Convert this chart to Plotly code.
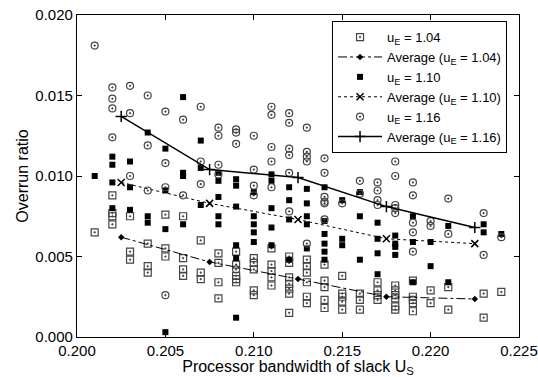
import plotly.graph_objects as go

# ---- data ----
cols_104 = {
    0.201: [0.0065],
    0.202: [0.0088, 0.0077, 0.0075, 0.0070],
    0.203: [0.0075, 0.0053, 0.0048],
    0.204: [0.0058, 0.0044, 0.0040],
    0.205: [0.0076, 0.0055, 0.0050],
    0.206: [0.0075, 0.0049, 0.0042, 0.0038],
    0.207: [0.0060, 0.0040, 0.0036],
    0.208: [0.0052, 0.0046, 0.0034, 0.0024],
    0.209: [0.0053, 0.0045, 0.0038, 0.0036, 0.0034],
    0.210: [0.0049, 0.0046, 0.0042, 0.0029, 0.0026],
    0.211: [0.0055, 0.0045, 0.0041, 0.0037, 0.0032],
    0.212: [0.0050, 0.0046, 0.0037, 0.0033, 0.0030, 0.0027, 0.0015],
    0.213: [0.0048, 0.0044, 0.0040, 0.0034, 0.0025, 0.0021],
    0.214: [0.0045, 0.0035, 0.0031, 0.0023, 0.0018],
    0.215: [0.0038, 0.0027, 0.0025, 0.0022, 0.0017],
    0.216: [0.0027, 0.0023, 0.0017],
    0.217: [0.0034, 0.0029, 0.0026, 0.0023],
    0.218: [0.0032, 0.0029, 0.0026, 0.0024, 0.0019, 0.0017],
    0.219: [0.0035, 0.0025, 0.0023, 0.0021, 0.0016],
    0.220: [0.0029, 0.0021],
    0.221: [0.0031, 0.0017],
    0.223: [0.0027, 0.0012],
    0.224: [0.0028],
}
cols_110 = {
    0.201: [0.0100],
    0.202: [0.0112, 0.0107, 0.0096, 0.0080],
    0.203: [0.0109, 0.0093, 0.0079],
    0.204: [0.0127, 0.0075, 0.0071],
    0.205: [0.0117, 0.0091, 0.0067, 0.0003],
    0.206: [0.0149, 0.0102, 0.0100, 0.0070],
    0.207: [0.0122, 0.0105, 0.0082],
    0.208: [0.0102, 0.0097, 0.0087, 0.0075, 0.0070],
    0.209: [0.0098, 0.0094, 0.0081, 0.0057, 0.0049, 0.0012],
    0.210: [0.0090, 0.0075, 0.0070, 0.0065, 0.0059],
    0.211: [0.0101, 0.0097, 0.0080, 0.0068, 0.0057],
    0.212: [0.0093, 0.0085, 0.0073, 0.0048],
    0.213: [0.0092, 0.0083, 0.0075, 0.0070, 0.0055],
    0.214: [0.0093, 0.0072, 0.0064, 0.0058, 0.0053, 0.0048],
    0.215: [0.0085, 0.0061, 0.0057],
    0.216: [0.0090, 0.0075, 0.0048],
    0.217: [0.0071, 0.0061, 0.0052, 0.0039],
    0.218: [0.0063, 0.0058, 0.0056, 0.0051],
    0.219: [0.0075, 0.0059, 0.0034],
    0.220: [0.0059, 0.0044],
    0.221: [0.0069, 0.0034],
    0.223: [0.0070, 0.0065],
    0.224: [0.0064],
}
cols_116 = {
    0.201: [0.0181],
    0.202: [0.0155, 0.0148, 0.0142, 0.0124],
    0.203: [0.0156, 0.0139, 0.0100],
    0.204: [0.0150, 0.0119, 0.0091],
    0.205: [0.0140, 0.0108, 0.0093, 0.0026],
    0.206: [0.0135, 0.0088],
    0.207: [0.0143, 0.0109, 0.0095],
    0.208: [0.0130, 0.0125, 0.0107, 0.0101],
    0.209: [0.0129, 0.0127, 0.0120, 0.0042],
    0.210: [0.0125, 0.0104, 0.0094, 0.0088],
    0.211: [0.0143, 0.0138, 0.0118, 0.0109, 0.0093],
    0.212: [0.0139, 0.0133, 0.0117, 0.0113, 0.0102, 0.0078],
    0.213: [0.0130, 0.0115, 0.0112, 0.0109, 0.0058],
    0.214: [0.0111, 0.0102, 0.0087, 0.0084, 0.0083, 0.0073],
    0.215: [0.0083],
    0.216: [0.0097, 0.0089],
    0.217: [0.0096, 0.0091, 0.0085, 0.0082],
    0.218: [0.0109, 0.0100, 0.0082, 0.0080, 0.0077],
    0.219: [0.0096, 0.0088, 0.0071, 0.0065, 0.0053],
    0.220: [0.0072, 0.0069],
    0.221: [0.0086, 0.0064],
    0.223: [0.0077, 0.0051],
    0.224: [0.0062],
}
avg_x = [0.2025, 0.2075, 0.2125, 0.2175, 0.2225]
avg_104 = [0.0062, 0.00466, 0.0036, 0.0025, 0.00236]
avg_110 = [0.0096, 0.0083, 0.0073, 0.0061, 0.0058]
avg_116 = [0.0137, 0.0104, 0.0099, 0.0081, 0.0068]

x_ticks = [0.200, 0.205, 0.210, 0.215, 0.220, 0.225]
y_ticks = [0.000, 0.005, 0.010, 0.015, 0.020]


def flatten(cols):
    xs, ys = [], []
    for k, vals in cols.items():
        for v in vals:
            xs.append(k)
            ys.append(v)
    return xs, ys


FONT = "Liberation Sans, Arial, Helvetica, sans-serif"
fig = go.Figure()

x1, y1 = flatten(cols_104)
fig.add_trace(go.Scatter(x=x1, y=y1, mode="markers", name="u<sub>E</sub> = 1.04",
                         marker=dict(symbol="square-open-dot", size=7, color="#444",
                                     line=dict(width=1.2, color="#444"))))
fig.add_trace(go.Scatter(x=avg_x, y=avg_104, mode="lines+markers",
                         name="Average (u<sub>E</sub> = 1.04)",
                         line=dict(color="black", width=1, dash="dashdot"),
                         marker=dict(symbol="diamond", size=5, color="black")))
x2, y2 = flatten(cols_110)
fig.add_trace(go.Scatter(x=x2, y=y2, mode="markers", name="u<sub>E</sub> = 1.10",
                         marker=dict(symbol="square", size=6, color="black")))
fig.add_trace(go.Scatter(x=avg_x, y=avg_110, mode="lines+markers",
                         name="Average (u<sub>E</sub> = 1.10)",
                         line=dict(color="black", width=1, dash="dot"),
                         marker=dict(symbol="x-thin", size=7,
                                     line=dict(width=1.5, color="black"))))
x3, y3 = flatten(cols_116)
fig.add_trace(go.Scatter(x=x3, y=y3, mode="markers", name="u<sub>E</sub> = 1.16",
                         marker=dict(symbol="circle-open-dot", size=7, color="#444",
                                     line=dict(width=1.2, color="#444"))))
fig.add_trace(go.Scatter(x=avg_x, y=avg_116, mode="lines+markers",
                         name="Average (u<sub>E</sub> = 1.16)",
                         line=dict(color="black", width=1.5),
                         marker=dict(symbol="cross-thin", size=8,
                                     line=dict(width=1.5, color="black"))))

axis_common = dict(showline=True, linecolor="black", linewidth=1.2, mirror="ticks",
                   ticks="inside", ticklen=5, tickcolor="black", showgrid=False,
                   zeroline=False, automargin=False,
                   tickfont=dict(family=FONT, size=15, color="black"))

fig.update_layout(
    width=538, height=377,
    margin=dict(l=77, r=19, t=15, b=40),
    paper_bgcolor="white", plot_bgcolor="white",
    font=dict(family=FONT, color="black"),
    xaxis=dict(range=[0.200, 0.225], tickvals=x_ticks,
               ticktext=[f"{v:.3f}" for v in x_ticks],
               title=dict(text="Processor bandwidth of slack U<sub>S</sub>",
                          font=dict(family=FONT, size=16), standoff=0),
               **axis_common),
    yaxis=dict(range=[0.000, 0.020], tickvals=y_ticks,
               ticktext=[f"{v:.3f}" for v in y_ticks],
               title=dict(text="Overrun ratio", font=dict(family=FONT, size=16), standoff=2),
               **axis_common),
    legend=dict(x=0.577, y=0.981, xanchor="left", yanchor="top",
                bgcolor="white", bordercolor="black", borderwidth=1,
                font=dict(family=FONT, size=13, color="black"),
                tracegroupgap=0, itemwidth=44),
    showlegend=True,
)

fig.write_html("out.html", config={"displayModeBar": False},
               post_script="document.body.style.margin='0';document.body.style.overflow='hidden';")
